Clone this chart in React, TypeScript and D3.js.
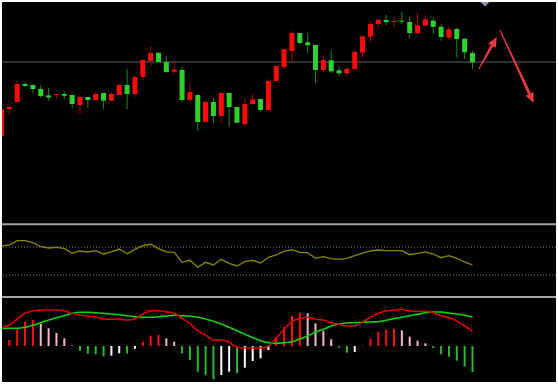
import React from "react";
import * as d3 from "d3";

// Candles (open, high, low, close) in price units
const opens = [86,113,120,138,137,133,126.5,127,128,127,117,125,122,129,121.3,127,137,128,145,161,169,160,150.3,152,122,127,100,120,106,129,115,98,118,123,112,141,155,171,189,179.7,177,152,161.7,151.7,148.7,153,169.3,185.3,198,202,200.5,201.3,200,188.7,196.3,201.3,195.3,184.3,193,183.3,169];
const highs = [113,116,141,140,137.5,137,134,128,130,127,127,125,130,129,130,138,153,146,162,176,170,166,162,155,139,127,122,124,129.3,129,115,124,128,123,143,156.3,173,191,189,189,177,167,172,156,153.3,172,185.7,200,202.3,207,205,210,205.3,210.3,207,204.7,197.7,196.3,194.7,183.3,171.3];
const lows = [86,107,120,135,129,124,121,123,123,113,108,114,122,113,121,127,113,125,142,156,160,149,147,120,119,91,100,99,99,95,99,96,117,110,112,141,153,159,178,169,139,150,149,146,145.3,153,164,180,194,197,193.3,198,183.7,188.7,196.3,188,181.3,181.3,164.3,163,153.3];
const closes = [113,115,138,136,133,126,124.5,128,126.3,118,125,122,128,121.3,128,137,128,145,162,169,160,150,152.3,122,130,100,120,106,129,115,99.3,118,122.7,112,141,156,173,189,179,176.7,152,162,150.7,148.7,153.3,170,185.7,198,202.3,200,201,200.7,189,196.7,202.7,195,185,192.7,183,169.7,159.7];
const refLevel = 160;

// RSI
const rsi = [71.4,72.9,79,79,76.1,70.4,68.6,69.6,68.1,61,64.3,62.9,64.7,60,62.9,67.1,60.4,66.7,71.9,73.9,67.6,62.9,62.4,48.1,51,41,48.1,44.3,52.4,46.7,42.9,49,51,47.1,55.3,58.6,63.6,66.1,62.4,61.9,53.9,56.1,53.3,52.4,53.9,57.6,61.4,64.3,65.7,64.7,64.7,64.7,59,61,62.9,60,54.7,57.6,53.9,48.6,44.3];
const rsiLevels = [70, 30];

// MACD
const dif = [1.87,2.1,2.7,3.27,3.5,3.6,3.6,3.6,3.53,3.27,3.1,3.0,2.9,2.7,2.67,2.67,2.6,2.73,3.2,3.5,3.53,3.43,3.27,2.77,2.27,1.53,1.1,0.6,0.6,0.37,-0.13,-0.2,-0.2,-0.2,0,0.8,1.67,2.43,2.77,2.87,2.67,2.6,2.33,2.17,2.0,2.03,2.4,2.87,3.27,3.5,3.6,3.67,3.5,3.47,3.47,3.33,3.03,2.83,2.5,2.0,1.47];
const dea = [1.77,1.77,1.77,1.87,2.07,2.33,2.6,2.83,3.03,3.27,3.37,3.37,3.33,3.27,3.2,3.13,3.03,2.93,2.87,2.87,2.93,3.0,3.07,3.03,2.97,2.87,2.7,2.47,2.2,1.87,1.53,1.17,0.83,0.53,0.33,0.27,0.33,0.43,0.7,1.0,1.37,1.67,2.0,2.2,2.3,2.33,2.37,2.4,2.43,2.57,2.73,2.87,3.03,3.17,3.33,3.4,3.4,3.3,3.2,3.07,2.9];
const hist = [0,0.6,1.67,2.4,2.6,2.23,1.77,1.3,0.77,0.05,-0.47,-0.77,-0.83,-1.03,-0.97,-0.73,-0.75,-0.27,0.43,1.03,1.1,0.77,0.43,-0.73,-1.4,-2.57,-2.9,-3.33,-2.9,-2.57,-2.73,-2.17,-1.5,-1.23,-0.4,0.8,1.87,3.0,3.33,3.27,2.27,1.53,0.67,-0.17,-0.67,-0.6,0.05,0.73,1.4,1.63,1.7,1.57,0.93,0.53,0.27,-0.2,-0.83,-1.07,-1.47,-2.07,-2.6];

// Annotations in (candle index, price)
const arrowUp = { from: [60.8, 153], to: [63.1, 185] };
const arrowDown = { from: [63.5, 192], to: [67.8, 119] };
const markerIndex = 61.6;

const W = 558;
const H = 384;

function Arrow({ x1, y1, x2, y2, color }: { x1: number; y1: number; x2: number; y2: number; color: string }) {
  const ang = Math.atan2(y2 - y1, x2 - x1);
  const len = 10;
  const hw = 4.3;
  const bx = x2 - len * Math.cos(ang);
  const by = y2 - len * Math.sin(ang);
  const px = -Math.sin(ang);
  const py = Math.cos(ang);
  const pts = [
    [x2, y2],
    [bx + px * hw, by + py * hw],
    [bx - px * hw, by - py * hw],
  ];
  const sw0 = 0.5;
  const sw1 = 1.5;
  const shaft = [
    [x1 + px * sw0, y1 + py * sw0],
    [bx + px * sw1, by + py * sw1],
    [bx - px * sw1, by - py * sw1],
    [x1 - px * sw0, y1 - py * sw0],
  ];
  return (
    <g>
      <polygon points={shaft.map((p) => p.join(",")).join(" ")} fill={color} />
      <polygon points={pts.map((p) => p.join(",")).join(" ")} fill={color} />
    </g>
  );
}

export default function App() {
  const n = opens.length;
  const x = d3.scaleLinear().domain([0, n - 1]).range([1.5, 472.5]);
  const yP = d3.scaleLinear().domain([0, 222]).range([222, 0]);
  const yR = d3.scaleLinear().domain([0, 100]).range([296, 226]);
  const yM = d3.scaleLinear().domain([-3.8, 4.8]).range([384, 298]);

  const rsiLine = d3.line<number>().x((_, i) => x(i)).y((d) => yR(d));
  const mLine = d3.line<number>().x((_, i) => x(i)).y((d) => yM(d)).curve(d3.curveMonotoneX);

  const bodyW = 5;
  const histColor = (i: number) => {
    const v = hist[i];
    const prev = i > 0 ? hist[i - 1] : 0;
    if (v >= 0) return v >= prev ? "#ff1010" : "#f7b6c6";
    return v <= prev ? "#2cb82c" : "#ffffff";
  };

  return (
    <svg width={W} height={H} style={{ position: "absolute", left: 0, top: 0, display: "block" }}>
      <defs>
        <clipPath id="plot">
          <rect x={2} y={2} width={W - 4} height={H - 4} />
        </clipPath>
      </defs>
      <rect x={0} y={0} width={W} height={H} fill="#ffffff" />
      <rect x={2} y={2} width={W - 4} height={H - 4} fill="#000000" />
      <g clipPath="url(#plot)">
        <line x1={0} x2={W} y1={yP(refLevel)} y2={yP(refLevel)} stroke="#5a6170" strokeWidth={1.2} />
        {opens.map((o, i) => {
          const c = closes[i];
          const up = c >= o;
          const cx = x(i);
          const top = yP(Math.max(o, c));
          const bot = yP(Math.min(o, c));
          return (
            <g key={i}>
              <line x1={cx} x2={cx} y1={yP(highs[i])} y2={yP(lows[i])} stroke={up ? "#a00000" : "#1d861d"} strokeWidth={1} />
              <rect x={cx - bodyW / 2} y={top} width={bodyW} height={Math.max(1, bot - top)} fill={up ? "#ff0a0a" : "#2fd02f"} />
            </g>
          );
        })}
        {(() => {
          const mx = x(markerIndex);
          return <polygon points={`${mx - 4.5},2 ${mx + 4.5},2 ${mx},6.5`} fill="#8e97a8" />;
        })()}
        <Arrow x1={x(arrowUp.from[0])} y1={yP(arrowUp.from[1])} x2={x(arrowUp.to[0])} y2={yP(arrowUp.to[1])} color="#ea3a40" />
        <Arrow x1={x(arrowDown.from[0])} y1={yP(arrowDown.from[1])} x2={x(arrowDown.to[0])} y2={yP(arrowDown.to[1])} color="#ea3a40" />

        <line x1={0} x2={W} y1={224.3} y2={224.3} stroke="#a4a4a4" strokeWidth={2} />
        <line x1={0} x2={W} y1={297} y2={297} stroke="#a4a4a4" strokeWidth={2} />

        {rsiLevels.map((l) => (
          <line key={l} x1={0} x2={W} y1={yR(l)} y2={yR(l)} stroke="#808080" strokeWidth={1} strokeDasharray="1,2" />
        ))}
        <path d={rsiLine(rsi) || ""} fill="none" stroke="#8a8a00" strokeWidth={1.3} />

        {hist.map((v, i) => (
          <line key={i} x1={x(i)} x2={x(i)} y1={yM(0)} y2={yM(v)} stroke={histColor(i)} strokeWidth={2} />
        ))}
        <path d={mLine(dea) || ""} fill="none" stroke="#10d010" strokeWidth={1.6} />
        <path d={mLine(dif) || ""} fill="none" stroke="#e00000" strokeWidth={1.6} />
      </g>
    </svg>
  );
}
